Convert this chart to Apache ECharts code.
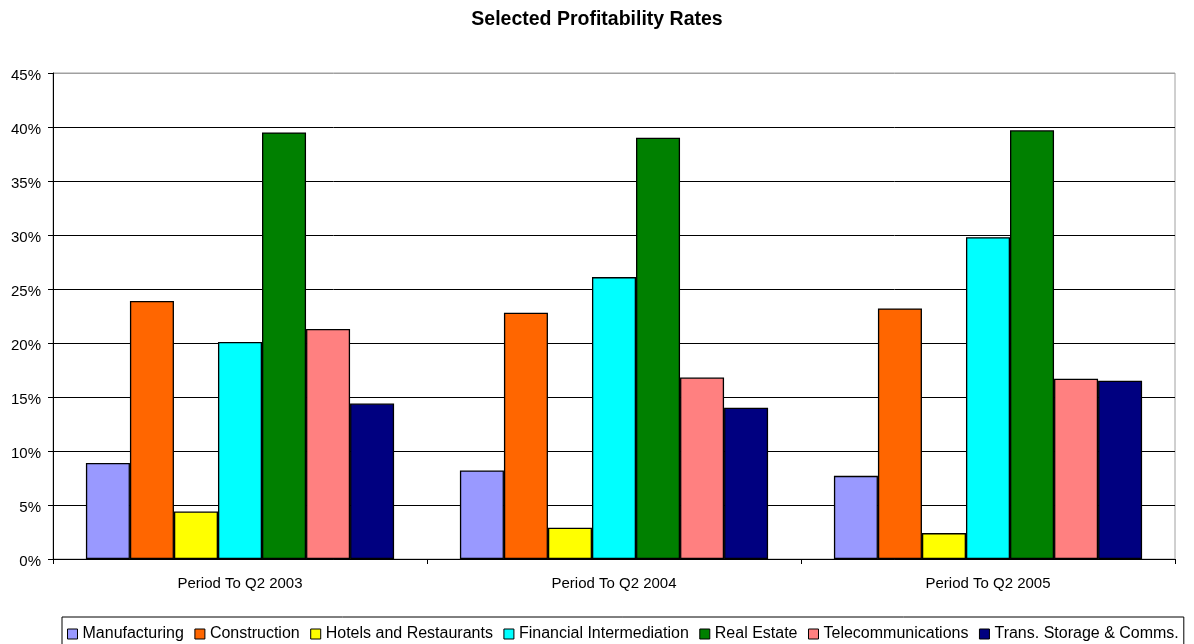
<!DOCTYPE html>
<html>
<head>
<meta charset="utf-8">
<script src="https://cdn.jsdelivr.net/npm/echarts@6/dist/echarts.min.js"></script>
<style>
  html, body { margin: 0; padding: 0; background: #fff; }
  #chart { width: 1194px; height: 644px; }
</style>
</head>
<body>
<div id="chart"></div>
<script>
// Profitability rates (%) by sector, per period
const periods = ['Period To Q2 2003', 'Period To Q2 2004', 'Period To Q2 2005'];
const seriesNames = ['Manufacturing', 'Construction', 'Hotels and Restaurants', 'Financial Intermediation', 'Real Estate', 'Telecommunications', 'Trans. Storage & Comms.'];
const manufacturing = [8.9, 8.2, 7.7];
const construction = [23.9, 22.8, 23.2];
const hotelsRestaurants = [4.4, 2.9, 2.4];
const financialIntermediation = [20.1, 26.1, 29.8];
const realEstate = [39.5, 39.0, 39.7];
const telecommunications = [21.3, 16.8, 16.7];
const transStorageComms = [14.4, 14.0, 16.5];
const yTicks = { min: 0, max: 45, interval: 5 };

const seriesValues = [manufacturing, construction, hotelsRestaurants, financialIntermediation, realEstate, telecommunications, transStorageComms];
const colors = ['#9999FF', '#FF6600', '#FFFF00', '#00FFFF', '#008000', '#FF8080', '#000080'];

const font = 'Arial, "Liberation Sans", sans-serif';
const chart = echarts.init(document.getElementById('chart'), null, { renderer: 'canvas' });

// gridline colours: black, except the top one which is part of the grey frame
const splitColors = [];
for (let v = yTicks.min; v <= yTicks.max; v += yTicks.interval) {
  splitColors.push(v === yTicks.max ? '#a0a0a0' : '#000000');
}

chart.setOption({
  animation: false,
  backgroundColor: '#ffffff',
  color: colors,
  title: {
    text: 'Selected Profitability Rates',
    left: 'center',
    top: 5,
    textStyle: { fontFamily: font, fontSize: 19.5, fontWeight: 'bold', color: '#000' }
  },
  legend: {
    data: seriesNames,
    left: 62,
    top: 617,
    padding: [9, 5, 5, 5],
    itemGap: 10.5,
    itemWidth: 10,
    itemHeight: 10,
    icon: 'rect',
    borderColor: '#000',
    borderWidth: 1,
    itemStyle: { borderColor: '#000', borderWidth: 1 },
    textStyle: { fontFamily: font, fontSize: 16, color: '#000' }
  },
  grid: {
    left: 53,
    right: 19,
    top: 73,
    bottom: 85,
    show: true,
    borderColor: '#a0a0a0',
    borderWidth: 1,
    containLabel: false
  },
  xAxis: {
    type: 'category',
    data: periods,
    axisLine: { lineStyle: { color: '#000', width: 1 } },
    axisTick: { show: true, alignWithLabel: false, length: 5, lineStyle: { color: '#000' } },
    axisLabel: { fontFamily: font, fontSize: 15, color: '#000', margin: 17 },
    splitLine: { show: false }
  },
  yAxis: {
    type: 'value',
    min: yTicks.min,
    max: yTicks.max,
    interval: yTicks.interval,
    axisLine: { show: true, lineStyle: { color: '#000', width: 1 } },
    axisTick: { show: true, length: 5, lineStyle: { color: '#000' } },
    axisLabel: { fontFamily: font, fontSize: 15, color: '#000', margin: 12, verticalAlign: 'top', padding: [-5, 0, 0, 0], formatter: '{value}%' },
    splitLine: { show: true, lineStyle: { color: splitColors, width: 1 } }
  },
  series: seriesNames.map((name, i) => ({
    name: name,
    type: 'bar',
    data: seriesValues[i],
    barGap: '0%',
    barCategoryGap: '17.6%',
    itemStyle: { color: colors[i], borderColor: '#000', borderWidth: 1.3 }
  }))
});
</script>
</body>
</html>
